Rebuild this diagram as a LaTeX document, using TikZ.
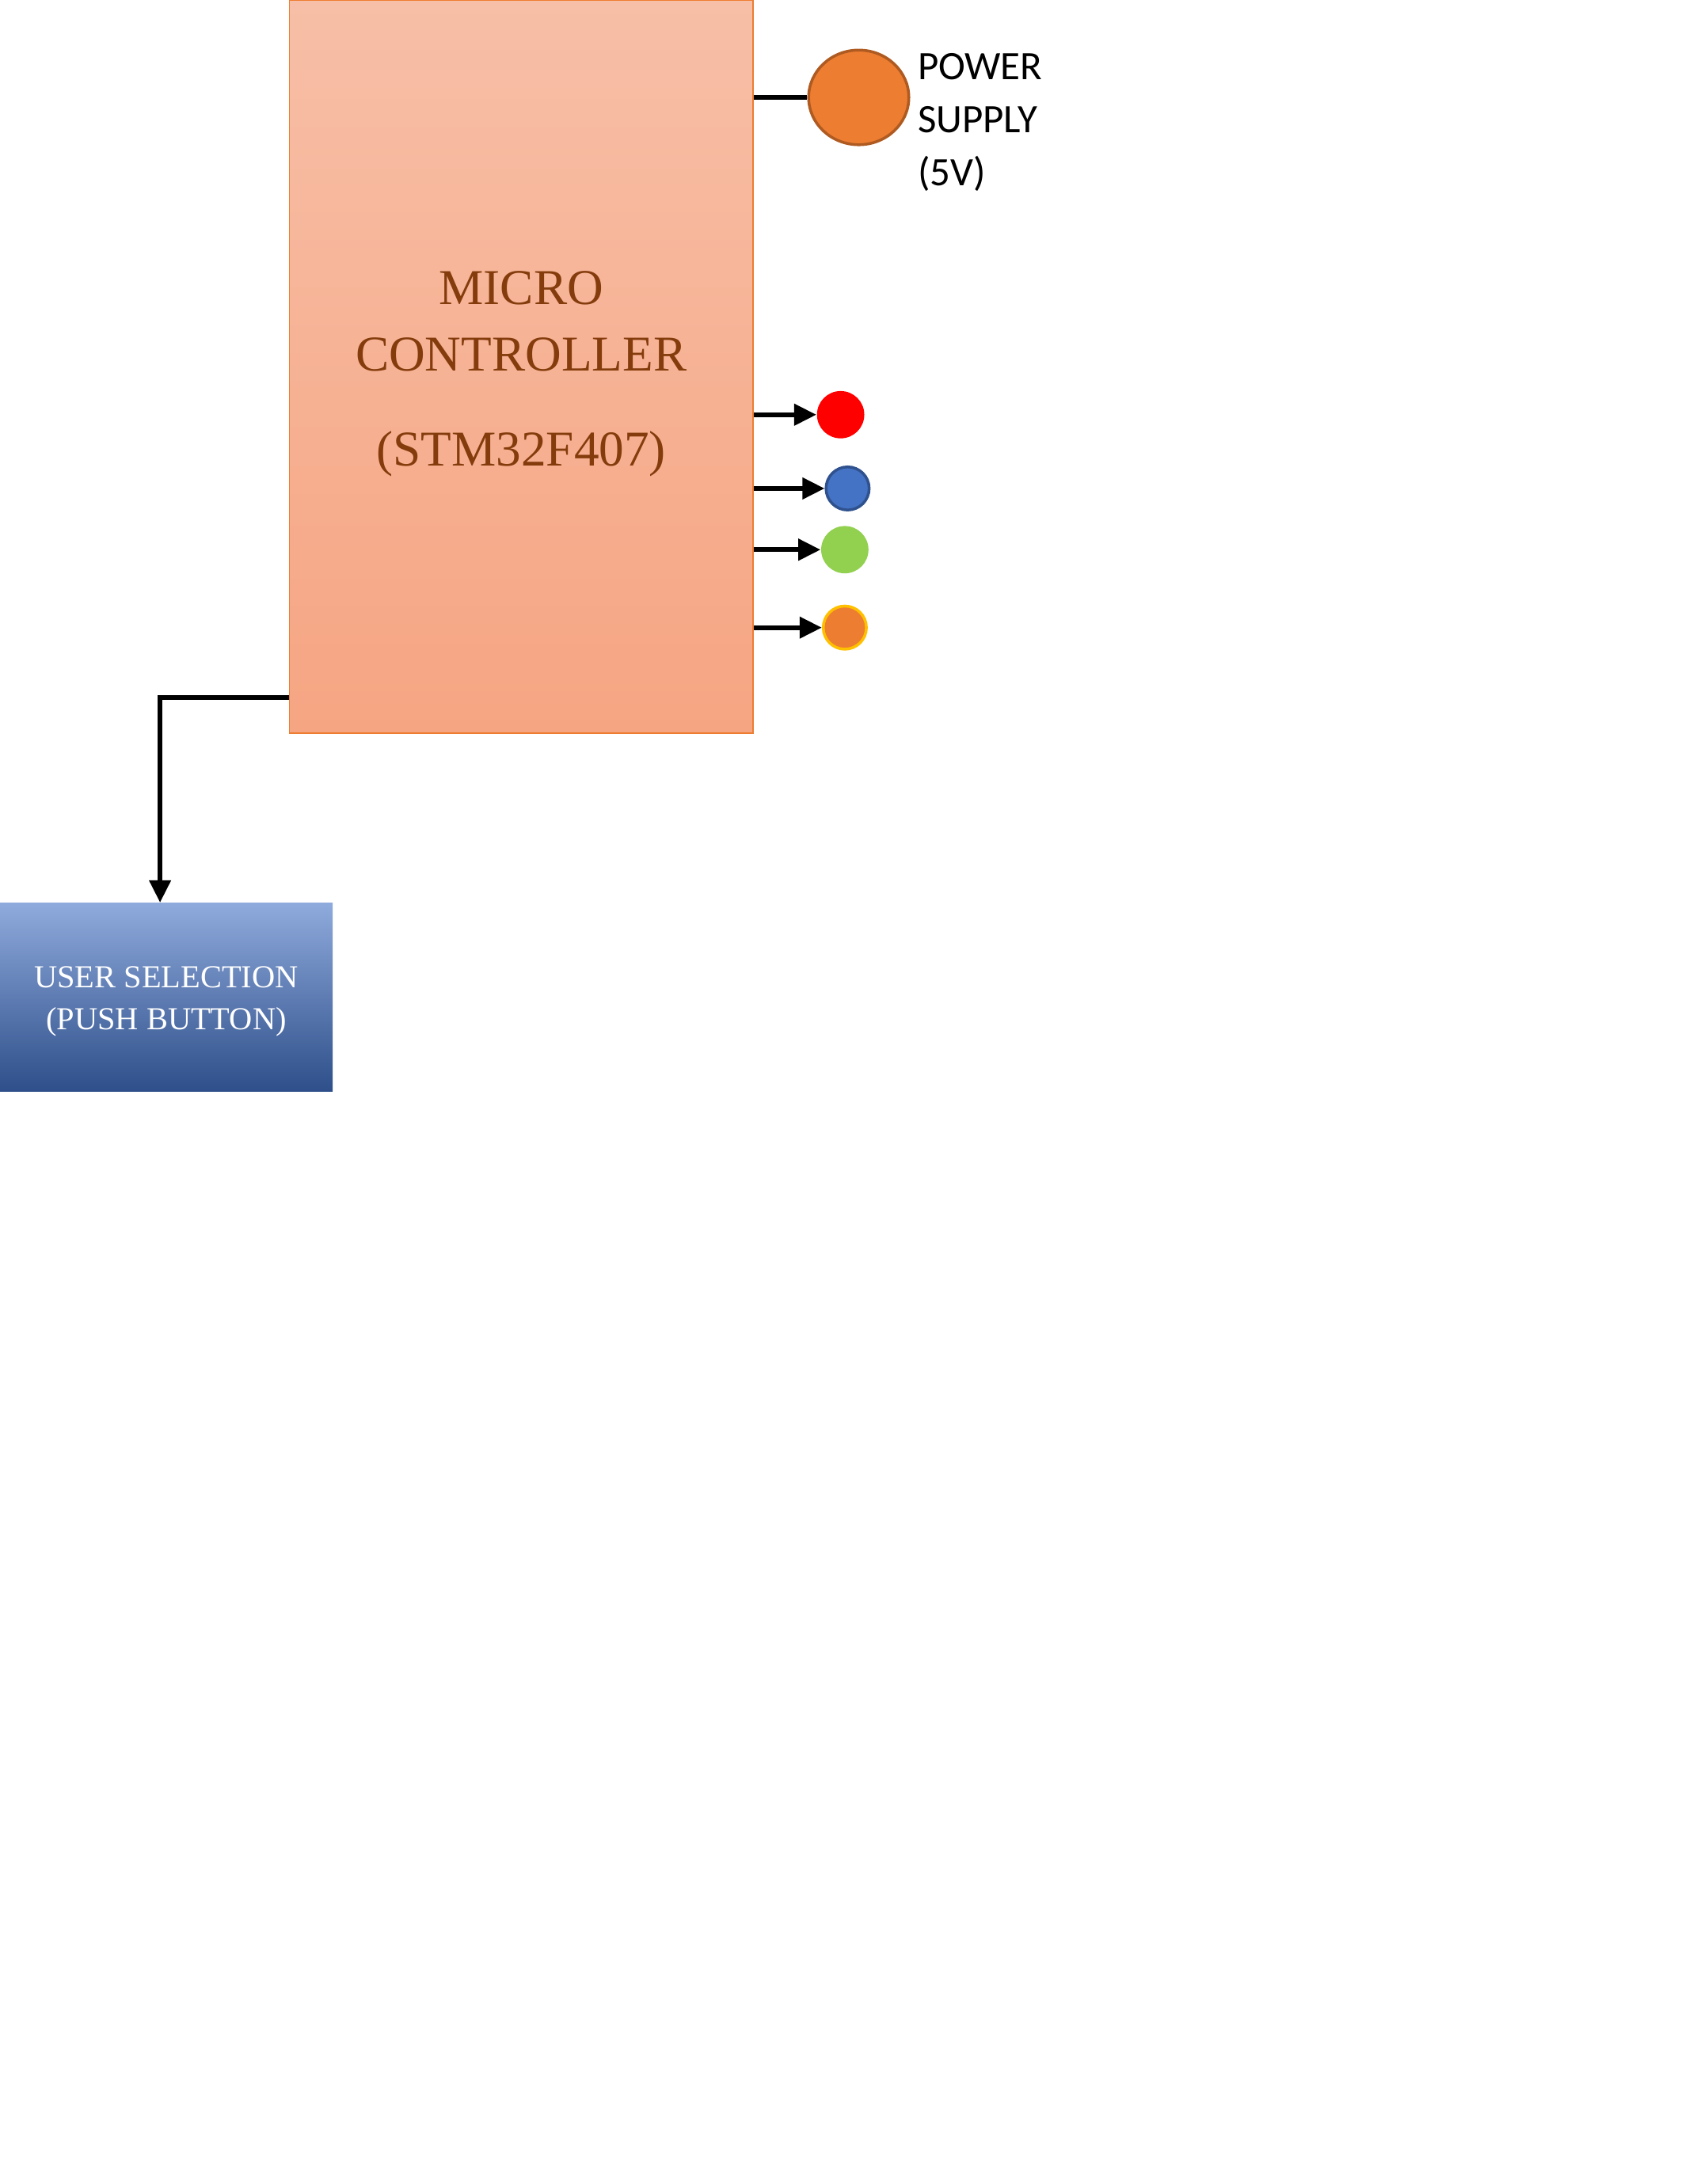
\documentclass[tikz,border=0pt]{standalone}
\usepackage{fontspec}
\setmainfont{Liberation Serif}
\newfontfamily\labelfont{Carlito}
\usetikzlibrary{shapes.geometric,arrows.meta,positioning,calc}
\definecolor{mcuorange}{HTML}{ED7D31}
\definecolor{mcutop}{HTML}{F7BFA7}
\definecolor{mcubottom}{HTML}{F6A582}
\definecolor{mcutext}{HTML}{843C0C}
\definecolor{psuedge}{HTML}{AE5A21}
\definecolor{btntop}{HTML}{8FAADC}
\definecolor{btnmid}{HTML}{4472C4}
\definecolor{btnbottom}{HTML}{2E4F8A}
\definecolor{ledred}{HTML}{FF0000}
\definecolor{ledblue}{HTML}{4472C4}
\definecolor{ledblueedge}{HTML}{2F528F}
\definecolor{ledgreen}{HTML}{92D050}
\definecolor{ledgold}{HTML}{FFC000}

\begin{document}
\begin{tikzpicture}[
    x=0.5pt, y=-0.5pt,
    mcubox/.style={rectangle, draw=mcuorange, line width=0.5pt,
                   top color=mcutop, bottom color=mcubottom,
                   minimum width=166.5pt, minimum height=263.5pt},
    btnbox/.style={rectangle, shading=axis, top color=btntop,
                   middle color=btnmid, bottom color=btnbottom,
                   minimum width=119.5pt, minimum height=67.5pt},
    led/.style={circle, minimum size=17pt, inner sep=0pt},
    wire/.style={line width=1.7pt},
    arr/.style={-{Triangle[length=8pt, width=7.5pt]}, line width=1.7pt},
  ]
    \useasboundingbox (0,0) rectangle (1227,1568);

    % Controller
    \node[mcubox] (mcu) at (374.5,263.5) {};
    \node[align=center, text=mcutext, font=\fontsize{18}{24}\selectfont]
        (mcuname) at ($(mcu.center)+(0,5)$) {MICRO\\CONTROLLER\\[10pt](STM32F407)};

    % Supply
    \node[ellipse, draw=psuedge, line width=1pt, fill=mcuorange,
          minimum width=36pt, minimum height=34pt, inner sep=0pt] (psu) at (617,70) {};
    \node[anchor=north west, align=left, inner sep=0pt,
          font=\labelfont\fontsize{14.5}{19}\selectfont] (psulabel) at (659,38)
        {POWER\\SUPPLY\\(5V)};

    % LEDs
    \node[led, fill=ledred] (led1) at (604,298) {};
    \node[led, fill=ledblue, draw=ledblueedge, line width=1pt,
          minimum size=15.5pt] (led2) at (609,351) {};
    \node[led, fill=ledgreen] (led3) at (607,395) {};
    \node[led, fill=mcuorange, draw=ledgold, line width=1pt,
          minimum size=15.5pt] (led4) at (607,451) {};

    % Push button
    \node[btnbox] (btn) at (119.5,716.5) {};
    \node[align=center, text=white, font=\fontsize{11.5}{15}\selectfont]
        (btnname) at ($(btn.center)+(0,3)$) {USER SELECTION\\(PUSH BUTTON)};
    \coordinate (bend) at (115,501);

    % Arrows
    \draw[wire] (mcu.east |- psu) -- (psu);
    \draw[arr] (mcu.east |- led1) -- (led1);
    \draw[arr] (mcu.east |- led2) -- (led2);
    \draw[arr] (mcu.east |- led3) -- (led3);
    \draw[arr] (mcu.east |- led4) -- (led4);
    \draw[arr] (mcu.west |- bend) -- (bend) -- (bend |- btn.north);
  \end{tikzpicture}
\end{document}
